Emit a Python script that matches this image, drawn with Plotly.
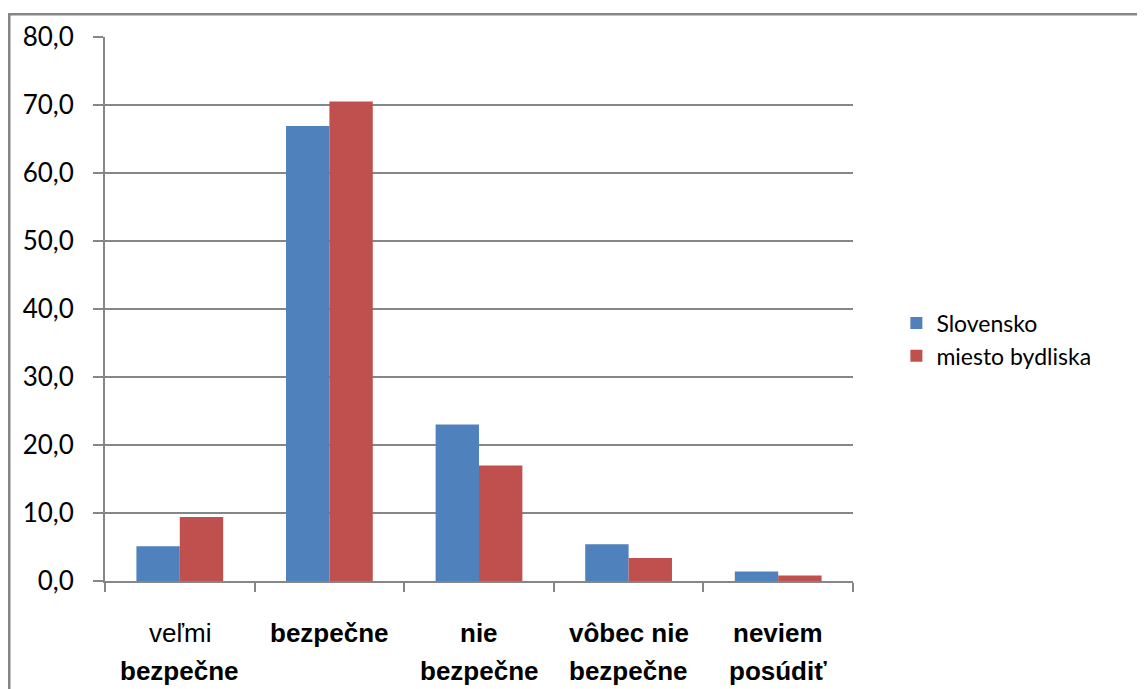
import plotly.graph_objects as go

categories_line1 = ["veľmi", "bezpečne", "nie", "vôbec nie", "neviem"]
categories_line2 = ["bezpečne", "", "bezpečne", "bezpečne", "posúdiť"]
line1_bold = [False, True, True, True, True]
series_names = ["Slovensko", "miesto bydliska"]
slovensko = [5.1, 66.9, 23.0, 5.4, 1.4]
miesto_bydliska = [9.4, 70.5, 17.0, 3.4, 0.8]
y_ticks = [0, 10, 20, 30, 40, 50, 60, 70, 80]
y_ticktext = ["0,0", "10,0", "20,0", "30,0", "40,0", "50,0", "60,0", "70,0", "80,0"]

x_pos = list(range(len(categories_line1)))
gray = "#868686"

fig = go.Figure()
fig.add_trace(go.Bar(x=x_pos, y=slovensko, name=series_names[0],
                     marker=dict(color="#4F81BD", line=dict(width=0))))
fig.add_trace(go.Bar(x=x_pos, y=miesto_bydliska, name=series_names[1],
                     marker=dict(color="#C0504D", line=dict(width=0))))

label_font = "Liberation Sans Narrow, Arial Narrow, Liberation Sans, sans-serif"
annotations = []
for i, (l1, l2, b) in enumerate(zip(categories_line1, categories_line2, line1_bold)):
    t1 = f"<b>{l1}</b>" if b else l1
    annotations.append(dict(x=i, y=-0.095, xref="x", yref="paper", text=t1,
                            showarrow=False, xanchor="center", yanchor="middle",
                            font=dict(family=label_font, size=26, color="black")))
    if l2:
        annotations.append(dict(x=i, y=-0.166, xref="x", yref="paper", text=f"<b>{l2}</b>",
                                showarrow=False, xanchor="center", yanchor="middle",
                                font=dict(family=label_font, size=26, color="black")))

fig.update_layout(
    width=1137, height=681,
    margin=dict(l=97, r=292, t=26, b=108),
    paper_bgcolor="white", plot_bgcolor="white",
    barmode="group", bargap=0.42, bargroupgap=0,
    font=dict(family="Lato, Open Sans, sans-serif", size=22, color="black"),
    legend=dict(x=1.058, y=0.444, xanchor="left", yanchor="middle",
                font=dict(family="Lato, Open Sans, sans-serif", size=23, color="black"),
                tracegroupgap=0, itemwidth=30, bgcolor="rgba(0,0,0,0)"),
    xaxis=dict(range=[-0.5, 4.5], tickmode="array",
               tickvals=[-0.5, 0.5, 1.5, 2.5, 3.5, 4.5],
               ticktext=["", "", "", "", "", ""],
               ticks="outside", ticklen=9, tickwidth=2, tickcolor=gray,
               showline=True, linecolor=gray, linewidth=2,
               showgrid=False, zeroline=False, fixedrange=True),
    yaxis=dict(range=[0, 80], tickmode="array", tickvals=y_ticks, ticktext=y_ticktext,
               ticks="outside", ticklen=10, tickwidth=2, tickcolor=gray,
               ticklabelstandoff=14,
               tickfont=dict(family="Lato, Open Sans, sans-serif", size=26, color="black"),
               showline=True, linecolor=gray, linewidth=2,
               showgrid=True, gridcolor=gray, gridwidth=1.5, zeroline=False),
    annotations=annotations,
    shapes=[dict(type="rect", xref="paper", yref="paper",
                 x0=-0.128, x1=1.40, y0=-0.25, y1=1.042,
                 line=dict(color=gray, width=2.5), fillcolor="rgba(0,0,0,0)", layer="below")],
)

fig.write_html("out.html")
